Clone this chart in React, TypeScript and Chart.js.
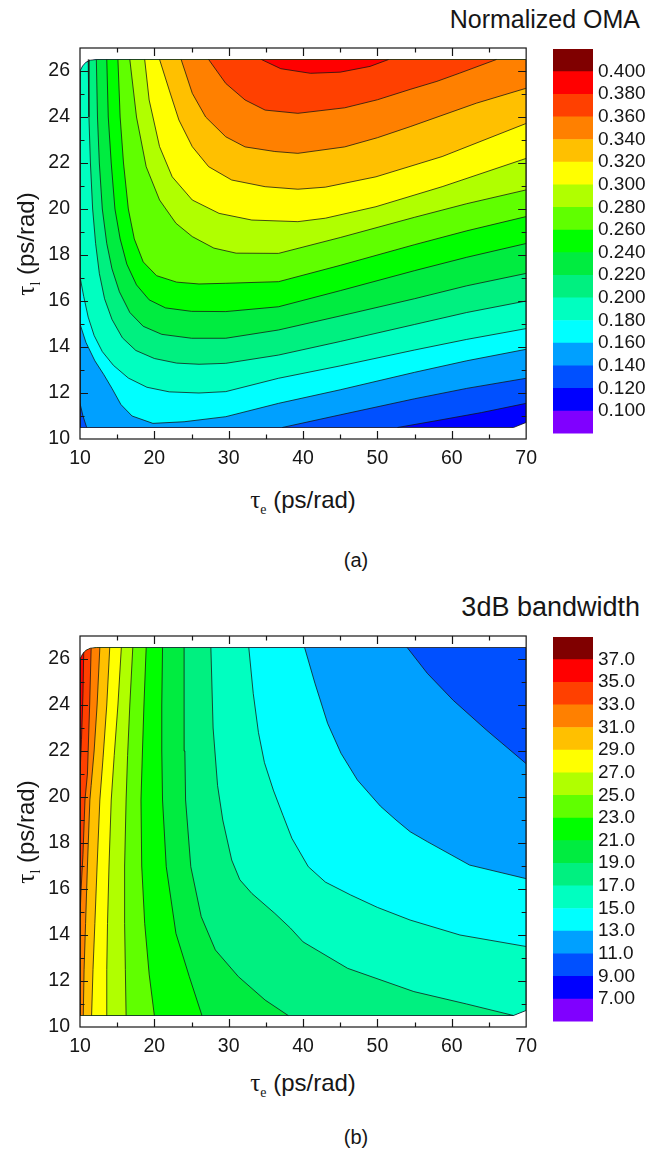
import React, { useEffect, useRef } from "react";
import { Chart, registerables } from "chart.js";

Chart.register(...registerables);

type Pt = [number, number];

// ---------- axes ----------
const X_MIN = 10;
const X_MAX = 70;
const Y_MIN = 10;
const Y_MAX = 27;
const X_TICKS = [10, 20, 30, 40, 50, 60, 70];
const X_MINOR_TICKS = [15, 25, 35, 45, 55, 65];
const Y_TICKS = [10, 12, 14, 16, 18, 20, 22, 24, 26];
const Y_MINOR_TICKS = [11, 13, 15, 17, 19, 21, 23, 25];

// ---------- colour scale (17 bands, lowest first) ----------
const BAND_COLORS = [
  "#8000FF", "#0000FF", "#0050FF", "#00A0FF", "#00FFFF", "#00FFC0",
  "#00F080", "#00EC40", "#00FF00", "#60FF00", "#B0FF00", "#FFFF00",
  "#FFC000", "#FF8000", "#FF4000", "#FF0000", "#800000",
];
const OMA_LEVELS = [0.1, 0.12, 0.14, 0.16, 0.18, 0.2, 0.22, 0.24, 0.26, 0.28, 0.3, 0.32, 0.34, 0.36, 0.38, 0.4];
const OMA_TICK_LABELS = ["0.100", "0.120", "0.140", "0.160", "0.180", "0.200", "0.220", "0.240", "0.260", "0.280", "0.300", "0.320", "0.340", "0.360", "0.380", "0.400"];
const BW_LEVELS = [7, 9, 11, 13, 15, 17, 19, 21, 23, 25, 27, 29, 31, 33, 35, 37];
const BW_TICK_LABELS = ["7.00", "9.00", "11.0", "13.0", "15.0", "17.0", "19.0", "21.0", "23.0", "25.0", "27.0", "29.0", "31.0", "33.0", "35.0", "37.0"];

// ---------- calculated data domain (counter-clockwise) ----------
const DATA_EDGE: Pt[] = [
  [10, 10.5], [68.3, 10.5], [70, 10.72], [70, 26.5], [12.2, 26.5],
  [11.4, 26.47], [10.8, 26.38], [10.35, 26.22], [10, 26.0],
];

// ---------- (a) Normalized OMA contour lines (tau_e, tau_l) ----------
const OMA_012: Pt[] = [[52.7, 10.5], [58, 10.8], [64, 11.15], [70, 11.55]];
const OMA_014_CORNER: Pt[] = [[10, 11.55], [10.4, 11.0], [10.9, 10.5]];
const OMA_014: Pt[] = [[37.2, 10.5], [45, 11.05], [55, 11.75], [62, 12.2], [70, 12.64]];
const OMA_016: Pt[] = [[10, 15.0], [10.8, 14.2], [12, 13.4], [13.2, 12.8], [14.3, 12.2], [15.5, 11.5], [17, 11.0], [19.8, 10.68], [24, 10.75], [29.6, 10.97], [36.7, 11.55], [45, 12.14], [55, 12.9], [62, 13.4], [70, 13.9]];
const OMA_018: Pt[] = [[10, 17.05], [10.5, 16.2], [11.1, 15.3], [11.9, 14.5], [13, 13.8], [14.5, 13.2], [16.5, 12.65], [19, 12.25], [22, 12.05], [26, 12.0], [29.6, 12.06], [36.7, 12.64], [45, 13.18], [55, 13.87], [62, 14.33], [70, 14.8]];
const OMA_020: Pt[] = [[11.1, 26.5], [11.2, 24], [11.4, 22], [11.7, 20], [12.1, 18.5], [12.6, 17.2], [13.3, 16.1], [14.3, 15.2], [15.7, 14.4], [17.5, 13.85], [20, 13.5], [23, 13.3], [26, 13.25], [29.6, 13.29], [36.7, 13.65], [45, 14.24], [55, 14.98], [62, 15.5], [70, 16.0]];
const OMA_022: Pt[] = [[12.2, 26.5], [12.35, 24], [12.6, 22], [13.0, 20], [13.6, 18.5], [14.3, 17.4], [15.3, 16.4], [16.7, 15.5], [18.5, 14.9], [21, 14.55], [25, 14.38], [29.6, 14.38], [36.7, 14.74], [45, 15.35], [55, 16.1], [62, 16.66], [70, 17.2]];
const OMA_024: Pt[] = [[13.6, 26.5], [13.8, 24], [14.2, 22], [14.7, 20], [15.4, 18.7], [16.3, 17.6], [17.6, 16.7], [19.3, 16.05], [21.5, 15.7], [25, 15.55], [29.6, 15.54], [36.7, 15.75], [45, 16.45], [55, 17.32], [62, 17.9], [70, 18.5]];
const OMA_026: Pt[] = [[15.1, 26.5], [15.4, 24], [15.85, 22], [16.5, 20], [17.3, 18.7], [18.5, 17.7], [20.3, 17.1], [23, 16.82], [26, 16.74], [29.6, 16.77], [36.7, 16.84], [45, 17.55], [55, 18.45], [62, 19.05], [70, 19.67]];
const OMA_028: Pt[] = [[16.7, 26.5], [17.6, 24.0], [18.9, 21.84], [20.7, 20.39], [22.9, 19.38], [25.1, 18.8], [28, 18.3], [31, 18.08], [36.7, 18.07], [45, 18.76], [55, 19.64], [62, 20.23], [70, 20.83]];
const OMA_030: Pt[] = [[18.7, 26.5], [19.3, 24.74], [20.7, 22.71], [22.4, 21.4], [25.1, 20.39], [28.7, 19.81], [33.1, 19.52], [39.3, 19.45], [43, 19.6], [49.8, 20.1], [58.7, 20.97], [70, 22.2]];
const OMA_032: Pt[] = [[20.7, 26.5], [22, 25.17], [23.3, 23.87], [25.1, 22.71], [27.3, 21.84], [30.4, 21.26], [34.9, 20.97], [39.3, 20.86], [43, 20.95], [49.8, 21.4], [58.7, 22.28], [70, 23.72]];
const OMA_034: Pt[] = [[23.6, 26.5], [25.1, 25.03], [26.9, 24.0], [29.6, 23.14], [32.2, 22.7], [36.2, 22.5], [39.3, 22.42], [45.6, 22.7], [50, 23.1], [54.4, 23.58], [63.3, 24.6], [70, 25.25]];
const OMA_036: Pt[] = [[27.3, 26.5], [29.6, 25.46], [32.2, 24.74], [34.9, 24.3], [39.3, 24.16], [45.6, 24.4], [50, 24.75], [54.4, 25.2], [58, 25.55], [61, 25.9], [66, 26.5]];
const OMA_038: Pt[] = [[34.4, 26.5], [37, 26.1], [41, 25.9], [45, 25.95], [49, 26.2], [51.5, 26.5]];

// ---------- (b) 3dB bandwidth contour lines (listed top to bottom) ----------
const BW_11: Pt[] = [[54, 26.5], [56.7, 25.38], [60.2, 24.2], [64.7, 22.9], [70, 21.45]];
const BW_13: Pt[] = [[40.2, 26.5], [41.6, 24.94], [43.3, 23.2], [45.1, 21.9], [47.3, 20.74], [50.4, 19.6], [52.5, 19.0], [54.4, 18.49], [56.7, 18.06], [62.4, 17.04], [70, 16.45]];
const BW_15: Pt[] = [[32.7, 26.5], [33.3, 24.5], [34.0, 22.8], [34.8, 21.5], [36.0, 20.3], [37.3, 19.2], [38.5, 18.2], [40.7, 16.97], [43, 16.3], [46.4, 15.74], [50, 15.2], [54.4, 14.65], [61.1, 14.0], [70, 13.5]];
const BW_17: Pt[] = [[27.6, 26.5], [27.9, 23], [28.5, 20.5], [29.2, 19], [30.4, 17.26], [31.5, 16.4], [33.1, 15.81], [36.2, 14.94], [38.3, 14.3], [40, 13.7], [46, 12.55], [54.9, 11.54], [62, 11.0], [68.3, 10.5]];
const BW_19: Pt[] = [[24.0, 26.5], [24.0, 24], [24.1, 22], [24.2, 19.87], [24.9, 16.97], [26.3, 14.8], [28.2, 13.35], [31.3, 12.19], [34.9, 11.17], [38.0, 10.5]];
const BW_21: Pt[] = [[21.1, 26.5], [21.0, 24], [21.0, 22], [21.1, 19.87], [21.6, 16.97], [22.9, 14.07], [24.7, 12.19], [26.4, 10.5]];
const BW_23: Pt[] = [[18.9, 26.5], [18.6, 24], [18.4, 22], [18.2, 19.87], [18.3, 17], [18.7, 14.5], [19.3, 12.3], [20.0, 10.5]];
const BW_25: Pt[] = [[17.1, 26.5], [16.7, 24], [16.4, 21.8], [16.2, 19.87], [16.0, 17], [16.0, 14.5], [16.1, 12.5], [16.2, 10.5]];
const BW_27: Pt[] = [[15.56, 26.5], [15.1, 24], [14.6, 21.8], [14.2, 19.87], [13.9, 17], [13.7, 14.5], [13.6, 12.5], [13.56, 10.5]];
const BW_29: Pt[] = [[14.0, 26.5], [13.6, 24], [13.1, 21.7], [12.67, 19.87], [12.3, 17], [12.0, 14.5], [11.75, 12.5], [11.56, 10.5]];
const BW_31: Pt[] = [[12.67, 26.5], [12.3, 24], [11.9, 22], [11.5, 20.5], [11.33, 19.87], [11.0, 17], [10.75, 14.5], [10.55, 12.5], [10.44, 10.5]];
const BW_33: Pt[] = [[11.5, 26.47], [11.3, 24], [11.0, 21], [10.67, 19.87], [10.4, 17.5], [10.15, 16], [10, 14.8]];
const BW_35: Pt[] = [[10.5, 26.3], [10.4, 24.5], [10.2, 22.5], [10, 21.0]];

type Level = { level: number; pieces: Pt[][] };

const OMA_CONTOURS: Level[] = [
  { level: 0.12, pieces: [OMA_012] },
  { level: 0.14, pieces: [OMA_014_CORNER, OMA_014] },
  { level: 0.16, pieces: [OMA_016] },
  { level: 0.18, pieces: [OMA_018] },
  { level: 0.2, pieces: [OMA_020] },
  { level: 0.22, pieces: [OMA_022] },
  { level: 0.24, pieces: [OMA_024] },
  { level: 0.26, pieces: [OMA_026] },
  { level: 0.28, pieces: [OMA_028] },
  { level: 0.3, pieces: [OMA_030] },
  { level: 0.32, pieces: [OMA_032] },
  { level: 0.34, pieces: [OMA_034] },
  { level: 0.36, pieces: [OMA_036] },
  { level: 0.38, pieces: [OMA_038] },
];

// bandwidth falls with tau_e: reverse so the higher side lies on the left of travel
const rev = (p: Pt[]) => p.slice().reverse();
const BW_CONTOURS: Level[] = [
  { level: 11, pieces: [rev(BW_11)] },
  { level: 13, pieces: [rev(BW_13)] },
  { level: 15, pieces: [rev(BW_15)] },
  { level: 17, pieces: [rev(BW_17)] },
  { level: 19, pieces: [rev(BW_19)] },
  { level: 21, pieces: [rev(BW_21)] },
  { level: 23, pieces: [rev(BW_23)] },
  { level: 25, pieces: [rev(BW_25)] },
  { level: 27, pieces: [rev(BW_27)] },
  { level: 29, pieces: [rev(BW_29)] },
  { level: 31, pieces: [rev(BW_31)] },
  { level: 33, pieces: [rev(BW_33)] },
  { level: 35, pieces: [rev(BW_35)] },
];

// ---------- helpers ----------
const SANS = '"Liberation Sans", Arial, Helvetica, sans-serif';
const SERIF = '"Liberation Serif", "Times New Roman", serif';
const INK = "#161616";

// Close the contour pieces along the domain boundary (counter-clockwise),
// giving the region where the value exceeds the level.
function superLevelRegion(edge: Pt[], pieces: Pt[][]): Pt[] {
  const n = edge.length;
  const sx = 7.5;
  const sy = 23;
  const cum: number[] = [0];
  for (let i = 0; i < n; i++) {
    const a = edge[i];
    const b = edge[(i + 1) % n];
    cum.push(cum[i] + Math.hypot((b[0] - a[0]) * sx, (b[1] - a[1]) * sy));
  }
  const per = cum[n];
  const param = (p: Pt) => {
    let best = Infinity;
    let s = 0;
    for (let i = 0; i < n; i++) {
      const a = edge[i];
      const b = edge[(i + 1) % n];
      const ax = a[0] * sx, ay = a[1] * sy;
      const dx = b[0] * sx - ax, dy = b[1] * sy - ay;
      const px = p[0] * sx, py = p[1] * sy;
      const L2 = dx * dx + dy * dy;
      let t = L2 ? ((px - ax) * dx + (py - ay) * dy) / L2 : 0;
      t = Math.max(0, Math.min(1, t));
      const d = Math.hypot(ax + t * dx - px, ay + t * dy - py);
      if (d < best) {
        best = d;
        s = cum[i] + t * (cum[i + 1] - cum[i]);
      }
    }
    return s;
  };
  const out: Pt[] = [];
  pieces.forEach((piece, i) => {
    const next = pieces[(i + 1) % pieces.length];
    out.push(...piece);
    const s0 = param(piece[piece.length - 1]);
    let s1 = param(next[0]);
    if (s1 <= s0) s1 += per;
    for (let k = 0; k < 2 * n; k++) {
      const vs = cum[k % n] + (k >= n ? per : 0);
      if (vs > s0 && vs < s1) out.push(edge[k % n]);
    }
  });
  return out;
}

const toXY = (p: Pt[]) => p.map(([x, y]) => ({ x, y }));

// fills the region datasets, painter style, clipped to the data domain
const contourFillPlugin = {
  id: "contourFill",
  beforeDatasetsDraw(chart: any) {
    const { ctx, chartArea: a } = chart;
    ctx.save();
    ctx.beginPath();
    ctx.rect(a.left, a.top, a.right - a.left, a.bottom - a.top);
    ctx.clip();
    chart.data.datasets.forEach((ds: any, i: number) => {
      if (!ds.regionColor) return;
      const pts = chart.getDatasetMeta(i).data;
      ctx.beginPath();
      pts.forEach((p: any, k: number) => (k ? ctx.lineTo(p.x, p.y) : ctx.moveTo(p.x, p.y)));
      ctx.closePath();
      ctx.fillStyle = ds.regionColor;
      ctx.fill();
      if (ds.isDomain) ctx.clip();
    });
    ctx.restore();
  },
};

// box frame with inward major / minor ticks
const framePlugin = {
  id: "frameTicks",
  afterDraw(chart: any) {
    const { ctx, chartArea: a, scales } = chart;
    const xs = scales.x;
    const ys = scales.y;
    ctx.save();
    ctx.strokeStyle = INK;
    ctx.lineWidth = 1.2;
    ctx.beginPath();
    const xt = (v: number, len: number) => {
      const px = Math.round(xs.getPixelForValue(v)) + 0.5;
      ctx.moveTo(px, a.bottom);
      ctx.lineTo(px, a.bottom - len);
      ctx.moveTo(px, a.top);
      ctx.lineTo(px, a.top + len);
    };
    const yt = (v: number, len: number) => {
      const py = Math.round(ys.getPixelForValue(v)) + 0.5;
      ctx.moveTo(a.left, py);
      ctx.lineTo(a.left + len, py);
      ctx.moveTo(a.right, py);
      ctx.lineTo(a.right - len, py);
    };
    X_TICKS.filter((v) => v > X_MIN && v < X_MAX).forEach((v) => xt(v, 8));
    X_MINOR_TICKS.forEach((v) => xt(v, 4.5));
    Y_TICKS.filter((v) => v > Y_MIN && v < Y_MAX).forEach((v) => yt(v, 8));
    Y_MINOR_TICKS.forEach((v) => yt(v, 4.5));
    ctx.stroke();
    ctx.strokeRect(a.left, a.top, a.right - a.left, a.bottom - a.top);
    ctx.restore();
  },
};

function makeContourChart(canvas: HTMLCanvasElement, contours: Level[], levels: number[]) {
  const colorFor = (lv: number) => {
    const k = levels.findIndex((l) => Math.abs(l - lv) < 1e-9);
    return BAND_COLORS[k + 1];
  };
  const lowest = contours[0].level;
  const baseColor = BAND_COLORS[levels.findIndex((l) => Math.abs(l - lowest) < 1e-9)];
  const lineStyle = {
    showLine: true,
    borderColor: "rgba(20,20,20,0.9)",
    borderWidth: 0.85,
    pointRadius: 0,
    fill: false,
    tension: 0,
  };
  const datasets: any[] = [
    { data: toXY(DATA_EDGE), regionColor: baseColor, isDomain: true, showLine: false, pointRadius: 0 },
    ...contours.map((c) => ({
      data: toXY(superLevelRegion(DATA_EDGE, c.pieces)),
      regionColor: colorFor(c.level),
      showLine: false,
      pointRadius: 0,
    })),
    ...contours.flatMap((c) => c.pieces.map((p) => ({ data: toXY(p), ...lineStyle }))),
    { data: toXY([...DATA_EDGE, DATA_EDGE[0]]), ...lineStyle },
  ];
  const tickFont = { family: SANS, size: 19.5 };
  return new Chart(canvas, {
    type: "scatter",
    data: { datasets },
    plugins: [contourFillPlugin, framePlugin],
    options: {
      animation: false,
      responsive: false,
      events: [],
      layout: { padding: { top: 48, right: 15, left: 0, bottom: 0 } },
      plugins: { legend: { display: false }, tooltip: { enabled: false } },
      scales: {
        x: {
          type: "linear",
          min: X_MIN,
          max: X_MAX,
          grid: { display: false, drawTicks: false },
          border: { display: false },
          ticks: { font: tickFont, color: INK, padding: 8, maxRotation: 0 },
          afterBuildTicks: (s: any) => {
            s.ticks = X_TICKS.map((v) => ({ value: v }));
          },
          afterFit: (s: any) => {
            s.height = 41;
          },
        },
        y: {
          type: "linear",
          min: Y_MIN,
          max: Y_MAX,
          grid: { display: false, drawTicks: false },
          border: { display: false },
          ticks: { font: tickFont, color: INK, padding: 10 },
          afterBuildTicks: (s: any) => {
            s.ticks = Y_TICKS.map((v) => ({ value: v }));
          },
          afterFit: (s: any) => {
            s.width = 80;
          },
        },
      },
    } as any,
  });
}

function makeColorbar(canvas: HTMLCanvasElement, labels: string[]) {
  return new Chart(canvas, {
    type: "bar",
    data: {
      labels: [""],
      datasets: BAND_COLORS.map((c) => ({
        data: [1],
        backgroundColor: c,
        borderWidth: 0,
        barPercentage: 1,
        categoryPercentage: 1,
        stack: "bar",
      })),
    },
    options: {
      animation: false,
      responsive: false,
      events: [],
      layout: { padding: { top: 49, bottom: 10, left: 0, right: 0 } },
      plugins: { legend: { display: false }, tooltip: { enabled: false } },
      scales: {
        x: { display: false, stacked: true },
        y: {
          stacked: true,
          min: 0,
          max: BAND_COLORS.length,
          position: "right",
          grid: { display: false, drawTicks: false },
          border: { display: false },
          afterBuildTicks: (s: any) => {
            s.ticks = labels.map((_, k) => ({ value: k + 1 }));
          },
          ticks: {
            autoSkip: false,
            padding: 5,
            color: INK,
            font: { family: SANS, size: 19 },
            callback: (v: any) => labels[Math.round(Number(v)) - 1] ?? "",
          },
          afterFit: (s: any) => {
            s.width = 53;
          },
        },
      },
    } as any,
  });
}

function ChartCanvas(props: { make: (c: HTMLCanvasElement) => Chart; left: number; top: number; width: number; height: number }) {
  const ref = useRef<HTMLCanvasElement>(null);
  useEffect(() => {
    const chart = props.make(ref.current as HTMLCanvasElement);
    return () => chart.destroy();
  }, []);
  return (
    <canvas
      ref={ref}
      width={props.width}
      height={props.height}
      style={{ position: "absolute", left: props.left, top: props.top, width: props.width, height: props.height }}
    />
  );
}

function Tau(props: { sub: string }) {
  return (
    <>
      <span style={{ fontFamily: SERIF, fontSize: "1.05em" }}>τ</span>
      <span style={{ fontFamily: SERIF, fontSize: "0.58em", position: "relative", top: "0.45em" }}>{props.sub}</span>
    </>
  );
}

const textBase: React.CSSProperties = { position: "absolute", fontFamily: SANS, color: INK, whiteSpace: "nowrap" };

function Panel(props: { top: number; title: string; titleSize: number; tag: string; xTitleY: number; tagY: number; contours: Level[]; levels: number[]; labels: string[] }) {
  const t = props.top;
  return (
    <>
      <div style={{ ...textBase, left: 340, width: 300, top: t + 4, fontSize: props.titleSize, lineHeight: "30px", textAlign: "right" }}>{props.title}</div>
      <ChartCanvas left={0} top={t} width={545} height={480} make={(c) => makeContourChart(c, props.contours, props.levels)} />
      <ChartCanvas left={553} top={t} width={93} height={450} make={(c) => makeColorbar(c, props.labels)} />
      <div style={{ ...textBase, left: 26 - 100, top: t + 244 - 15, width: 200, height: 30, lineHeight: "30px", fontSize: 24, textAlign: "center", transform: "rotate(-90deg)" }}>
        <Tau sub="l" /> (ps/rad)
      </div>
      <div style={{ ...textBase, left: 203, top: t + props.xTitleY - 15, width: 200, lineHeight: "30px", fontSize: 24, textAlign: "center" }}>
        <Tau sub="e" /> (ps/rad)
      </div>
      <div style={{ ...textBase, left: 306, top: t + props.tagY - 12, width: 100, lineHeight: "24px", fontSize: 20, textAlign: "center" }}>{props.tag}</div>
    </>
  );
}

export default function App() {
  return (
    <div style={{ position: "absolute", left: 0, top: 0, width: 646, height: 1156, background: "#ffffff", overflow: "hidden" }}>
      <Panel top={0} title="Normalized OMA" titleSize={25} tag="(a)" xTitleY={500} tagY={560} contours={OMA_CONTOURS} levels={OMA_LEVELS} labels={OMA_TICK_LABELS} />
      <Panel top={588} title="3dB bandwidth" titleSize={27} tag="(b)" xTitleY={495} tagY={549} contours={BW_CONTOURS} levels={BW_LEVELS} labels={BW_TICK_LABELS} />
    </div>
  );
}
